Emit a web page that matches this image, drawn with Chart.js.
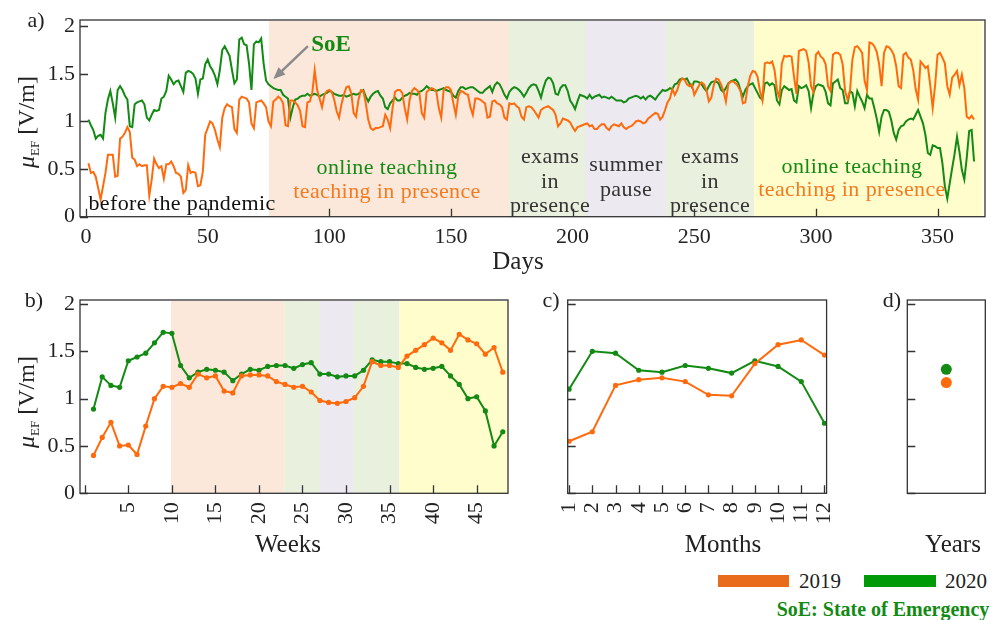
<!DOCTYPE html>
<html>
<head>
<meta charset="utf-8">
<title>Electric field exposure 2019 / 2020</title>
<script src="https://cdn.jsdelivr.net/npm/chart.js@4.4.1/dist/chart.umd.min.js"></script>
<style>
  body { margin: 0; background: #fff; font-family: 'Liberation Serif', serif; color: #222; }
  #page { position: relative; width: 994px; height: 620px; overflow: hidden; }
  canvas { position: absolute; }
  .t { position: absolute; white-space: nowrap; transform: translate(-50%, -50%); line-height: 1; }
  .note { font-size: 22px; letter-spacing: 0.4px; }
  .green { color: #138a13; }
  .orange { color: #f47a20; }
  .grey { color: #333; }
  .ttl { font-size: 25px; }
  .panel { font-size: 22px; }
  .ylab { font-size: 24px; transform: translate(-50%, -50%) rotate(-90deg); }
  .ylab sub { font-size: 13px; vertical-align: -5px; }
  .bar { position: absolute; height: 12px; }
</style>
</head>
<body>
<div id="page">
  <canvas id="ca" width="994" height="280" style="left:0;top:0"></canvas>
  <canvas id="cb" width="530" height="260" style="left:0;top:280px"></canvas>
  <canvas id="cc" width="340" height="260" style="left:520px;top:280px"></canvas>
  <canvas id="cd" width="134" height="260" style="left:860px;top:280px"></canvas>

  <div class="t panel" style="left:36px;top:20px">a)</div>
  <div class="t panel" style="left:34px;top:300px">b)</div>
  <div class="t panel" style="left:551px;top:300px">c)</div>
  <div class="t panel" style="left:892px;top:300px">d)</div>

  <div class="t ylab" style="left:27px;top:122px"><i>μ</i><sub>EF</sub> [V/m]</div>
  <div class="t ylab" style="left:27px;top:402px"><i>μ</i><sub>EF</sub> [V/m]</div>

  <div class="t ttl" style="left:518px;top:260px">Days</div>
  <div class="t ttl" style="left:288px;top:543px">Weeks</div>
  <div class="t ttl" style="left:723px;top:543px">Months</div>
  <div class="t ttl" style="left:953px;top:543px">Years</div>

  <div class="t note" style="left:182px;top:203px;color:#111">before the pandemic</div>
  <div class="t note green" style="left:387px;top:167px">online teaching</div>
  <div class="t note orange" style="left:387px;top:191px">teaching in presence</div>
  <div class="t note grey" style="left:550px;top:156px">exams</div>
  <div class="t note grey" style="left:550px;top:181px">in</div>
  <div class="t note grey" style="left:550px;top:205px">presence</div>
  <div class="t note grey" style="left:626px;top:164px">summer</div>
  <div class="t note grey" style="left:626px;top:189px">pause</div>
  <div class="t note grey" style="left:710px;top:156px">exams</div>
  <div class="t note grey" style="left:710px;top:181px">in</div>
  <div class="t note grey" style="left:710px;top:205px">presence</div>
  <div class="t note green" style="left:852px;top:166px">online teaching</div>
  <div class="t note orange" style="left:852px;top:189px">teaching in presence</div>
  <div class="t green" style="left:331px;top:43px;font-size:23px;font-weight:bold">SoE</div>

  <div class="bar" style="left:718px;top:575px;width:71px;background:#e96b1c"></div>
  <div class="t" style="left:820px;top:581px;font-size:21px">2019</div>
  <div class="bar" style="left:864px;top:575px;width:72px;background:#009a08"></div>
  <div class="t" style="left:966px;top:581px;font-size:21px">2020</div>
  <div class="t green" style="left:883px;top:609px;font-size:20px;font-weight:bold">SoE: State of Emergency</div>
</div>

<script>
// ---- data ----
const days = Array.from({length: 365}, (_, i) => i + 1);
const dayTicks = [0, 50, 100, 150, 200, 250, 300, 350];
const valueTicks = [0, 0.5, 1, 1.5, 2];

const day2019 = [
  0.56,0.46,0.47,0.42,0.30,0.18,0.32,0.46,0.65,0.65,
  0.65,0.42,0.43,0.82,0.84,0.88,0.94,0.89,0.62,0.60,
  0.53,0.55,0.53,0.54,0.54,0.22,0.39,0.61,0.55,0.51,
  0.53,0.40,0.55,0.55,0.58,0.53,0.46,0.45,0.42,0.25,
  0.28,0.54,0.46,0.47,0.46,0.32,0.33,0.47,0.86,0.93,
  1.00,0.98,0.91,0.81,0.73,1.04,1.14,1.18,1.16,1.15,
  0.92,0.88,1.23,1.26,1.25,1.24,1.20,0.98,0.93,1.20,
  1.21,1.22,1.19,1.15,1.00,0.95,1.21,1.23,1.26,1.24,
  1.19,0.96,0.95,1.22,1.22,1.20,1.17,1.11,0.95,0.94,
  1.20,1.21,1.30,1.54,1.33,1.24,1.15,1.28,1.32,1.33,
  1.31,1.23,1.11,1.04,1.18,1.28,1.36,1.37,1.30,1.09,
  1.05,1.23,1.33,1.32,1.19,1.02,0.93,0.91,0.93,0.93,
  0.94,0.95,1.07,1.02,0.93,1.14,1.31,1.33,1.33,1.30,
  1.14,1.02,1.23,1.32,1.35,1.33,1.30,1.09,1.04,1.31,
  1.33,1.35,1.34,1.31,1.14,1.04,1.33,1.36,1.36,1.33,
  1.19,1.07,1.26,1.32,1.31,1.29,1.28,1.15,1.07,1.24,
  1.24,1.23,1.21,1.19,1.04,1.05,1.21,1.22,1.19,1.18,
  1.15,1.04,1.02,1.19,1.18,1.19,1.16,1.14,1.05,1.02,
  1.15,1.16,1.15,1.12,1.08,1.04,1.12,1.14,1.15,1.16,
  1.14,1.12,1.07,0.95,0.98,1.03,1.02,1.01,0.99,0.94,
  0.90,0.94,0.95,0.96,0.97,0.98,0.95,0.96,0.92,0.92,
  0.95,0.97,0.97,0.93,0.91,0.95,0.97,0.96,0.95,0.98,
  0.94,0.92,0.94,0.95,0.97,1.00,1.01,1.00,0.98,0.99,
  1.03,1.05,1.07,1.09,1.08,1.02,1.05,1.12,1.20,1.24,
  1.34,1.28,1.33,1.41,1.45,1.44,1.39,1.37,1.39,1.28,
  1.33,1.38,1.41,1.39,1.33,1.21,1.25,1.38,1.45,1.44,
  1.39,1.32,1.21,1.39,1.42,1.42,1.40,1.37,1.32,1.19,
  1.20,1.37,1.48,1.53,1.52,1.47,1.32,1.22,1.61,1.62,
  1.61,1.63,1.54,1.33,1.25,1.61,1.69,1.68,1.69,1.68,
  1.47,1.29,1.74,1.75,1.76,1.74,1.62,1.37,1.31,1.70,
  1.73,1.68,1.66,1.60,1.37,1.32,1.70,1.72,1.72,1.70,
  1.60,1.32,1.23,1.32,1.65,1.78,1.79,1.76,1.72,1.43,
  1.33,1.83,1.82,1.79,1.73,1.60,1.37,1.72,1.79,1.78,
  1.75,1.70,1.58,1.37,1.35,1.70,1.72,1.67,1.65,1.54,
  1.34,1.23,1.63,1.60,1.56,1.58,1.38,1.14,1.38,1.70,
  1.72,1.67,1.61,1.37,1.28,1.46,1.49,1.53,1.38,1.49,
  1.35,1.05,1.03,1.06,1.02
];

const day2020 = [
  1.02,0.96,0.91,0.82,0.85,0.86,0.82,1.09,1.23,1.32,
  1.19,1.04,1.33,1.37,1.33,1.27,1.23,0.95,0.94,1.18,
  1.20,1.21,1.22,1.18,1.04,1.01,1.07,1.12,1.11,1.12,
  1.24,1.26,1.32,1.48,1.44,1.39,1.42,1.43,1.37,1.31,
  1.51,1.53,1.52,1.50,1.45,1.29,1.44,1.45,1.60,1.65,
  1.58,1.54,1.48,1.39,1.54,1.75,1.79,1.74,1.69,1.54,
  1.40,1.44,1.86,1.88,1.81,1.80,1.61,1.33,1.81,1.84,
  1.83,1.87,1.61,1.43,1.39,1.37,1.35,1.34,1.33,1.33,
  1.28,1.26,1.24,1.04,1.15,1.23,1.24,1.26,1.27,1.27,
  1.29,1.27,1.28,1.29,1.28,1.26,1.28,1.29,1.30,1.32,
  1.31,1.29,1.28,1.27,1.27,1.28,1.26,1.27,1.28,1.29,
  1.28,1.29,1.31,1.33,1.26,1.21,1.26,1.29,1.31,1.32,
  1.27,1.24,1.15,1.13,1.19,1.22,1.25,1.22,1.22,1.25,
  1.27,1.28,1.30,1.29,1.29,1.28,1.31,1.32,1.34,1.37,
  1.35,1.33,1.33,1.32,1.33,1.34,1.35,1.33,1.32,1.31,
  1.27,1.25,1.32,1.36,1.36,1.34,1.35,1.36,1.36,1.34,
  1.32,1.30,1.30,1.33,1.35,1.37,1.31,1.38,1.41,1.39,
  1.34,1.28,1.24,1.31,1.34,1.36,1.35,1.33,1.30,1.26,
  1.30,1.35,1.38,1.39,1.38,1.32,1.25,1.35,1.43,1.46,
  1.45,1.40,1.29,1.28,1.35,1.38,1.38,1.32,1.22,1.18,
  1.13,1.21,1.28,1.27,1.26,1.24,1.28,1.24,1.26,1.27,
  1.28,1.25,1.26,1.25,1.24,1.26,1.24,1.22,1.22,1.22,
  1.20,1.21,1.24,1.25,1.26,1.27,1.26,1.24,1.26,1.23,
  1.26,1.27,1.25,1.23,1.27,1.30,1.33,1.32,1.33,1.35,
  1.34,1.39,1.40,1.44,1.45,1.44,1.45,1.40,1.36,1.42,
  1.42,1.41,1.39,1.35,1.32,1.37,1.41,1.42,1.42,1.40,
  1.33,1.31,1.35,1.40,1.42,1.43,1.44,1.41,1.33,1.26,
  1.33,1.37,1.39,1.40,1.35,1.30,1.25,1.23,1.40,1.41,
  1.38,1.40,1.38,1.22,1.18,1.33,1.37,1.35,1.33,1.34,
  1.22,1.20,1.37,1.35,1.36,1.38,1.32,1.14,1.30,1.37,
  1.39,1.38,1.37,1.31,1.19,1.17,1.40,1.42,1.44,1.35,
  1.33,1.19,1.19,1.32,1.30,1.16,1.32,1.26,1.21,1.14,
  1.28,1.24,1.24,1.14,1.03,0.89,1.05,1.12,1.12,1.10,
  1.01,0.88,0.81,0.91,0.95,0.96,1.00,1.02,1.03,1.02,
  1.07,1.12,1.05,0.98,0.86,0.67,0.65,0.75,0.74,0.72,
  0.72,0.56,0.32,0.19,0.35,0.51,0.66,0.84,0.68,0.49,
  0.39,0.62,0.90,0.91,0.58
];

const weeks = [1,2,3,4,5,6,7,8,9,10,11,12,13,14,15,16,17,18,19,20,21,22,23,24,
               25,26,27,28,29,30,31,32,33,34,35,36,37,38,39,40,41,42,43,44,45,46,47,48];
const weekTicks = [0, 5, 10, 15, 20, 25, 30, 35, 40, 45];
const week2019 = [0.40,0.59,0.75,0.50,0.51,0.41,0.71,1.00,1.13,1.12,1.16,1.12,1.26,1.22,1.24,1.08,
                  1.06,1.24,1.25,1.25,1.24,1.18,1.15,1.12,1.13,1.07,0.98,0.96,0.95,0.97,1.01,1.13,
                  1.39,1.35,1.35,1.33,1.45,1.51,1.57,1.64,1.59,1.51,1.68,1.62,1.58,1.47,1.54,1.28];
const week2020 = [0.89,1.23,1.14,1.12,1.40,1.44,1.48,1.59,1.70,1.69,1.35,1.22,1.28,1.31,1.30,1.28,
                  1.19,1.26,1.31,1.30,1.34,1.35,1.35,1.32,1.36,1.38,1.26,1.26,1.23,1.24,1.24,1.30,
                  1.41,1.39,1.39,1.37,1.37,1.33,1.31,1.32,1.34,1.24,1.15,1.00,1.02,0.87,0.50,0.65];

const months = [1,2,3,4,5,6,7,8,9,10,11,12];
const month2019 = [0.55,0.65,1.14,1.20,1.22,1.18,1.04,1.03,1.37,1.57,1.62,1.46];
const month2020 = [1.10,1.50,1.48,1.30,1.28,1.35,1.32,1.27,1.40,1.34,1.18,0.74];

const year2019 = [1.17];
const year2020 = [1.31];

// periods: pandemic online teaching, exams, summer pause, exams, online teaching
const dayBands = [[75.2, 173.9], [173.9, 205.1], [205.1, 238.4], [238.4, 274.6], [274.6, 368.7]];
const weekBands = [[9.9, 22.9], [22.9, 27.0], [27.0, 30.9], [30.9, 36.15], [36.15, 48.6]];

// ---- styles ----
const ORANGE = '#ff6a0d';
const GREEN = '#138a13';
const bandColors = ['#fce8da', '#e9f0de', '#ece9f1', '#e9f0de', '#fffdcc'];

Chart.defaults.font.family = "'Liberation Serif', serif";
Chart.defaults.font.size = 22;
Chart.defaults.color = '#222';

const framePlugin = {
  id: 'frame',
  beforeDatasetsDraw(chart, args, opts) {
    const {ctx, chartArea: a, scales: {x}} = chart;
    if (!opts.bands) return;
    ctx.save();
    opts.bands.forEach((b, i) => {
      const x0 = Math.max(x.getPixelForValue(b[0]), a.left);
      const x1 = Math.min(x.getPixelForValue(b[1]), a.right);
      ctx.fillStyle = bandColors[i];
      ctx.fillRect(x0, a.top + 1, x1 - x0, a.bottom - a.top - 1);
    });
    ctx.restore();
  },
  afterDraw(chart, args, opts) {
    const {ctx, chartArea: a, scales: {x, y}} = chart;
    ctx.save();
    ctx.strokeStyle = '#333';
    ctx.lineWidth = 1.3;
    ctx.beginPath();
    if (opts.xTicks) {
      x.ticks.forEach(t => {
        const px = Math.round(x.getPixelForValue(t.value)) + 0.5;
        ctx.moveTo(px, a.bottom);
        ctx.lineTo(px, a.bottom - 8);
      });
    }
    y.ticks.forEach(t => {
      const py = Math.round(y.getPixelForValue(t.value)) + 0.5;
      ctx.moveTo(a.left, py);
      ctx.lineTo(a.left + 8, py);
    });
    ctx.stroke();
    ctx.strokeRect(a.left, a.top, a.right - a.left, a.bottom - a.top);

    if (opts.arrow) {
      const [fx, fy] = opts.arrow.from, [tx, ty] = opts.arrow.to;
      const x0 = x.getPixelForValue(fx), y0 = y.getPixelForValue(fy);
      const x1 = x.getPixelForValue(tx), y1 = y.getPixelForValue(ty);
      const ang = Math.atan2(y1 - y0, x1 - x0);
      ctx.strokeStyle = '#8a8a8a';
      ctx.fillStyle = '#8a8a8a';
      ctx.lineWidth = 2.5;
      ctx.beginPath();
      ctx.moveTo(x0, y0);
      ctx.lineTo(x1 - 9 * Math.cos(ang), y1 - 9 * Math.sin(ang));
      ctx.stroke();
      ctx.beginPath();
      ctx.moveTo(x1, y1);
      ctx.lineTo(x1 - 13 * Math.cos(ang - 0.4), y1 - 13 * Math.sin(ang - 0.4));
      ctx.lineTo(x1 - 13 * Math.cos(ang + 0.4), y1 - 13 * Math.sin(ang + 0.4));
      ctx.closePath();
      ctx.fill();
    }
    ctx.restore();
  }
};
Chart.register(framePlugin);

function pts(xs, ys) {
  return xs.map((v, i) => ({x: v, y: ys[i]}));
}

function xAxis(min, max, tickVals, height, rot, showLabels) {
  return {
    type: 'linear', min: min, max: max,
    grid: {display: false, drawTicks: false},
    border: {display: false},
    afterBuildTicks: s => { s.ticks = tickVals.map(v => ({value: v})); },
    afterFit: s => { s.height = height; },
    ticks: {
      display: showLabels, autoSkip: false, minRotation: rot, maxRotation: rot,
      padding: rot ? 9 : 7, callback: v => (v === 0 && rot ? '' : String(v))
    }
  };
}

function yAxis(max, width, showLabels) {
  return {
    min: 0, max: max,
    grid: {display: false, drawTicks: false},
    border: {display: false},
    afterBuildTicks: s => { s.ticks = valueTicks.map(v => ({value: v})); },
    afterFit: s => { s.width = width; },
    ticks: {display: showLabels, padding: 5, callback: v => String(v)}
  };
}

function lineSet(label, data, color, radius) {
  return {
    label: label, data: data, borderColor: color, backgroundColor: color,
    borderWidth: 2, pointRadius: radius, pointBorderWidth: 0, tension: 0
  };
}

const base = {
  responsive: false, animation: false,
  events: [],
  plugins: {legend: {display: false}, tooltip: {enabled: false}}
};

// a) days
new Chart(document.getElementById('ca'), {
  type: 'line',
  data: {datasets: [
    lineSet('2019', pts(days, day2019), ORANGE, 0),
    lineSet('2020', pts(days, day2020), GREEN, 0)
  ]},
  options: Object.assign({}, base, {
    layout: {padding: {left: 0, right: 9, top: 20, bottom: 0}},
    plugins: Object.assign({}, base.plugins, {
      frame: {bands: dayBands, xTicks: true, arrow: {from: [91.2, 1.79], to: [77, 1.445]}}
    }),
    scales: {
      x: xAxis(-2.47, 369.5, dayTicks, 63.3, 0, true),
      y: yAxis(2.065, 80, true)
    }
  })
});

// b) weeks
new Chart(document.getElementById('cb'), {
  type: 'line',
  data: {datasets: [
    lineSet('2019', pts(weeks, week2019), ORANGE, 2.6),
    lineSet('2020', pts(weeks, week2020), GREEN, 2.6)
  ]},
  options: Object.assign({}, base, {
    layout: {padding: {left: 0, right: 22, top: 20, bottom: 0}},
    plugins: Object.assign({}, base.plugins, {frame: {bands: weekBands, xTicks: true}}),
    scales: {
      x: xAxis(-0.55, 48.6, weekTicks, 46.7, 90, true),
      y: yAxis(2.042, 80, true)
    }
  })
});

// c) months
new Chart(document.getElementById('cc'), {
  type: 'line',
  data: {datasets: [
    lineSet('2019', pts(months, month2019), ORANGE, 2.6),
    lineSet('2020', pts(months, month2020), GREEN, 2.6)
  ]},
  options: Object.assign({}, base, {
    layout: {padding: {left: 0, right: 12.7, top: 20, bottom: 0}},
    plugins: Object.assign({}, base.plugins, {frame: {xTicks: true}}),
    scales: {
      x: xAxis(0.94, 12.09, months, 46.7, 90, true),
      y: yAxis(2.042, 47.7, false)
    }
  })
});

// d) years
new Chart(document.getElementById('cd'), {
  type: 'scatter',
  data: {datasets: [
    {label: '2019', data: pts([1], year2019), backgroundColor: ORANGE, pointRadius: 5.5, pointBorderWidth: 0},
    {label: '2020', data: pts([1], year2020), backgroundColor: GREEN, pointRadius: 5.5, pointBorderWidth: 0}
  ]},
  options: Object.assign({}, base, {
    layout: {padding: {left: 0, right: 8.7, top: 20, bottom: 0}},
    plugins: Object.assign({}, base.plugins, {frame: {xTicks: false}}),
    scales: {
      x: xAxis(0, 2, [], 46.7, 0, false),
      y: yAxis(2.042, 47.3, false)
    }
  })
});
</script>
</body>
</html>
